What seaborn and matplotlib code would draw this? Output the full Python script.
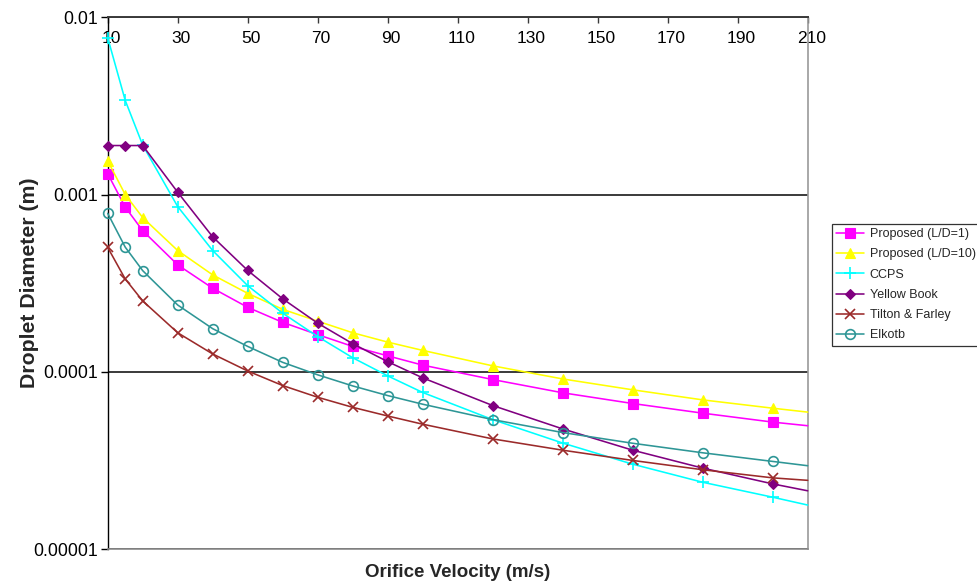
import matplotlib
matplotlib.use("Agg")
import numpy as np
import pandas as pd
import matplotlib.pyplot as plt
from matplotlib.ticker import NullLocator
from matplotlib.transforms import ScaledTranslation
import seaborn as sns

# ---------------- data ----------------
velocity = [10, 15, 20, 30, 40, 50, 60, 70, 80, 90, 100, 120, 140, 160, 180, 200, 210]
marked_max_velocity = 200

series_names = ["Proposed (L/D=1)", "Proposed (L/D=10)", "CCPS",
                "Yellow Book", "Tilton & Farley", "Elkotb"]

proposed_ld1 = [1.31e-3, 8.5e-4, 6.25e-4, 4.01e-4, 2.96e-4, 2.31e-4, 1.90e-4, 1.62e-4,
                1.39e-4, 1.23e-4, 1.09e-4, 9.04e-5, 7.61e-5, 6.62e-5, 5.84e-5, 5.20e-5, 4.96e-5]
proposed_ld10 = [1.55e-3, 1.0e-3, 7.41e-4, 4.83e-4, 3.52e-4, 2.77e-4, 2.25e-4, 1.93e-4,
                 1.66e-4, 1.47e-4, 1.32e-4, 1.08e-4, 9.11e-5, 7.91e-5, 6.94e-5, 6.23e-5, 5.92e-5]
ccps = [7.67e-3, 3.40e-3, 1.90e-3, 8.55e-4, 4.83e-4, 3.06e-4, 2.14e-4, 1.58e-4,
        1.20e-4, 9.48e-5, 7.64e-5, 5.37e-5, 3.96e-5, 3.01e-5, 2.38e-5, 1.96e-5, 1.77e-5]
yellow_book = [1.89e-3, 1.89e-3, 1.89e-3, 1.03e-3, 5.77e-4, 3.73e-4, 2.58e-4, 1.88e-4,
               1.44e-4, 1.14e-4, 9.24e-5, 6.45e-5, 4.76e-5, 3.61e-5, 2.86e-5, 2.33e-5, 2.13e-5]
tilton_farley = [5.03e-4, 3.34e-4, 2.51e-4, 1.66e-4, 1.26e-4, 1.01e-4, 8.36e-5, 7.18e-5,
                 6.30e-5, 5.63e-5, 5.06e-5, 4.18e-5, 3.61e-5, 3.16e-5, 2.80e-5, 2.52e-5, 2.44e-5]
elkotb = [7.83e-4, 5.05e-4, 3.72e-4, 2.38e-4, 1.75e-4, 1.39e-4, 1.13e-4, 9.61e-5,
          8.32e-5, 7.34e-5, 6.56e-5, 5.37e-5, 4.54e-5, 3.95e-5, 3.49e-5, 3.12e-5, 2.95e-5]

x_tick_values = [10, 30, 50, 70, 90, 110, 130, 150, 170, 190, 210]
x_tick_labels = ["10", "30", "50", "70", "90", "110", "130", "150", "170", "190", "210"]
y_tick_values = [1e-5, 1e-4, 1e-3, 1e-2]
y_tick_labels = ["0.00001", "0.0001", "0.001", "0.01"]

# ---------------- styles ----------------
colors = ["#FF00FF", "#FFFF00", "#00FFFF", "#800080", "#9B2A2A", "#2E9696"]
marker_list = ["s", "^", "+", "D", "x", "o"]
marker_sizes = [6.5, 7, 8, 5.5, 7, 7]
filled = [True, True, True, True, True, False]

all_values = [proposed_ld1, proposed_ld10, ccps, yellow_book, tilton_farley, elkotb]

sns.set_theme(style="white")
plt.rcParams["font.family"] = ["Liberation Sans", "DejaVu Sans"]

fig = plt.figure(figsize=(9.78, 5.83), dpi=100)
ax = fig.add_axes([107.7 / 978, 1 - 549 / 583, 700 / 978, (549 - 17.3) / 583])

mark_idx = [i for i, v in enumerate(velocity) if v <= marked_max_velocity]
handles = []
for i, (name, vals) in enumerate(zip(series_names, all_values)):
    df = pd.DataFrame({"velocity": velocity, "diameter": vals})
    n_before = len(ax.lines)
    c = colors[i]
    sns.lineplot(data=df, x="velocity", y="diameter", ax=ax, color=c,
                 marker=marker_list[i], markersize=marker_sizes[i],
                 markeredgecolor=c, markerfacecolor=(c if filled[i] else "none"),
                 markeredgewidth=(1.2 if marker_list[i] in "+xo" else 0.8),
                 markevery=mark_idx, linewidth=1.15, estimator=None,
                 clip_on=False, zorder=3 + 0.1 * i, legend=False)
    handles.append(ax.lines[n_before])

ax.set_yscale("log")
ax.set_ylim(1e-5, 1e-2)
ax.set_xlim(10, 210)
ax.set_yticks(y_tick_values, y_tick_labels)
ax.yaxis.set_minor_locator(NullLocator())
ax.xaxis.set_minor_locator(NullLocator())
ax.xaxis.tick_top()
ax.set_xticks(x_tick_values, x_tick_labels)
ax.tick_params(axis="x", which="major", direction="in", length=4, width=1,
               color="#3a3a3a", pad=-21, labelsize=12.5, labelcolor="black")
ax.tick_params(axis="y", which="major", length=5, width=1, direction="out",
               color="black", pad=2, labelsize=12.7, labelcolor="black", left=True)

# Excel places the category labels a few pixels to the right of their ticks
offset = ScaledTranslation(3.5 / 100, 0, fig.dpi_scale_trans)
for lab in ax.xaxis.get_majorticklabels():
    lab.set_transform(lab.get_transform() + offset)

ax.yaxis.grid(True, color="#3a3a3a", linewidth=1.4)
ax.xaxis.grid(False)
for name, sp in ax.spines.items():
    sp.set_visible(True)
ax.spines["top"].set_color("#3a3a3a")
ax.spines["top"].set_linewidth(1.4)
ax.spines["left"].set_color("black")
ax.spines["left"].set_linewidth(1.0)
ax.spines["bottom"].set_color("#8c8c8c")
ax.spines["bottom"].set_linewidth(1.2)
ax.spines["right"].set_color("#9a9a9a")
ax.spines["right"].set_linewidth(1.2)

ax.xaxis.set_label_position("bottom")
ax.set_xlabel("Orifice Velocity (m/s)", fontsize=13.5, fontweight="bold", labelpad=11)
ax.set_ylabel("Droplet Diameter (m)", fontsize=15.3, fontweight="bold", labelpad=-4)

leg = ax.legend(handles=handles, labels=series_names, loc="upper left",
                bbox_to_anchor=(832 / 978, 1 - 224 / 583), bbox_transform=fig.transFigure,
                frameon=True, fancybox=False, edgecolor="black", fontsize=9,
                handlelength=2.27, labelspacing=0.66, borderpad=0.33, handletextpad=0.42,
                borderaxespad=0)
leg.get_frame().set_linewidth(0.9)

fig.savefig("out.png", dpi=100)
